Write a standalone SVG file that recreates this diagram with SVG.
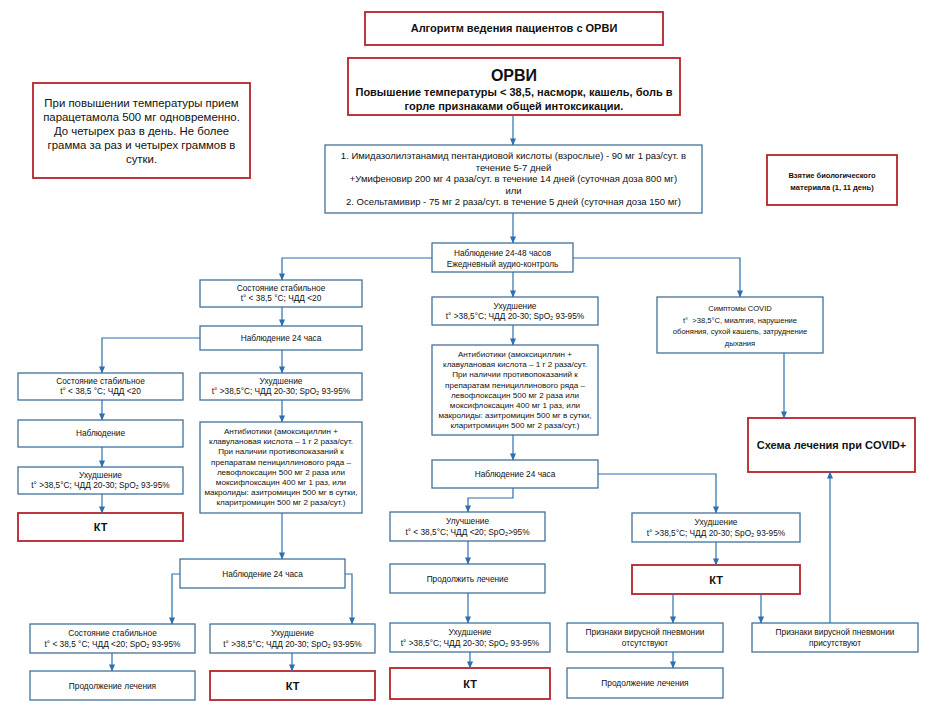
<svg xmlns="http://www.w3.org/2000/svg" width="936" height="712" viewBox="0 0 936 712">
<defs>
<marker id="ah" viewBox="0 0 8 8" refX="7.5" refY="4" markerWidth="7" markerHeight="7" markerUnits="userSpaceOnUse" orient="auto">
<path d="M0,0.5 L8,4 L0,7.5 Z" fill="#2e6fb0"/>
</marker>
<style>
text{font-family:"Liberation Sans",Arial,"DejaVu Sans",sans-serif;fill:#111;text-anchor:middle}
.b{fill:#fff;stroke:#41719c;stroke-width:1.3}
.r{fill:#fff;stroke:#b5232b;stroke-width:1.8}
.s{font-size:8.3px}
.a{font-size:8.1px}
.k{font-size:11px;font-weight:bold}
.c{fill:none;stroke:#2e6fb0;stroke-width:1.2;marker-end:url(#ah)}
</style>
</defs>
<rect width="936" height="712" fill="#fff"/>

<g id="title"><rect class="r" x="365" y="12" width="298" height="33"/><text class="k" x="514" y="32" font-size="11.5">Алгоритм ведения пациентов с ОРВИ</text></g>

<g id="orvi"><rect class="r" x="348" y="58" width="332" height="57" stroke-width="2.2"/>
<text x="514" y="81" font-size="16" font-weight="bold">ОРВИ</text>
<text class="k" x="514" y="96">Повышение температуры &lt; 38,5, насморк, кашель, боль в</text>
<text class="k" x="514" y="110">горле признаками общей интоксикации.</text></g>

<g id="paracetamol"><rect class="r" x="33" y="83" width="217" height="95"/>
<g font-size="11.4"><text x="141.5" y="107">При повышении температуры прием</text>
<text x="141.5" y="121">парацетамола 500 мг одновременно.</text>
<text x="141.5" y="135">До четырех раз в день. Не более</text>
<text x="141.5" y="149">грамма за раз и четырех граммов в</text>
<text x="141.5" y="163">сутки.</text></g></g>

<g id="drugs"><rect class="b" x="325" y="145" width="377" height="68"/>
<g font-size="9.5" xml:space="preserve"><text x="513.5" y="159">1. Имидазолилэтанамид пентандиовой кислоты (взрослые) - 90 мг 1 раз/сут. в</text>
<text x="513.5" y="170.5">течение 5-7 дней</text>
<text x="513.5" y="182">+Умифеновир  200 мг 4 раза/сут. в течение 14 дней (суточная доза 800 мг)</text>
<text x="513.5" y="193.5">или</text>
<text x="513.5" y="205">2. Осельтамивир  - 75 мг 2 раза/сут. в течение 5 дней  (суточная доза 150 мг)</text></g></g>

<g id="bio"><rect class="r" x="767" y="155" width="130" height="50" stroke-width="1.5"/>
<text x="832" y="178" font-size="7.5" font-weight="bold">Взятие биологического</text>
<text x="832" y="190" font-size="7.5" font-weight="bold">материала (1, 11 день)</text></g>

<g id="obs2448"><rect class="b" x="432" y="243" width="141" height="29"/>
<text class="s" x="502.5" y="256">Наблюдение 24-48 часов</text>
<text class="s" x="502.5" y="267">Ежедневный аудио-контроль</text></g>

<g id="stable1"><rect class="b" x="200" y="280" width="162" height="27"/>
<text class="s" x="281" y="291">Состояние стабильное</text>
<text class="s" x="281" y="301">t° &lt; 38,5 °C; ЧДД &lt;20</text></g>

<g id="obs24a"><rect class="b" x="200" y="326" width="162" height="24"/>
<text class="s" x="281" y="341">Наблюдение 24 часа</text></g>

<g id="lstable"><rect class="b" x="18" y="373" width="165" height="27"/>
<text class="s" x="100.5" y="384">Состояние стабильное</text>
<text class="s" x="100.5" y="394">t° &lt; 38,5 °C; ЧДД &lt;20</text></g>

<g id="lobs"><rect class="b" x="18" y="420" width="165" height="27"/>
<text class="s" x="100.5" y="436">Наблюдение</text></g>

<g id="lworse"><rect class="b" x="18" y="467" width="165" height="27"/>
<text class="s" x="100.5" y="478">Ухудшение</text>
<text class="s" x="100.5" y="488">t° &gt;38,5°C; ЧДД 20-30; SpO₂ 93-95%</text></g>

<g id="lkt"><rect class="r" x="18" y="513" width="165" height="28"/>
<text class="k" x="100.5" y="531">КТ</text></g>

<g id="mlworse"><rect class="b" x="200" y="373" width="162" height="27"/>
<text class="s" x="281" y="384">Ухудшение</text>
<text class="s" x="281" y="394">t° &gt;38,5°C; ЧДД 20-30; SpO₂ 93-95%</text></g>

<g id="mlanti"><rect class="b" x="200" y="422" width="162" height="91"/>
<g class="a"><text x="281" y="434">Антибиотики (амоксициллин +</text>
<text x="281" y="444.2">клавулановая кислота – 1 г 2 раза/сут.</text>
<text x="281" y="454.4">При наличии противопоказаний к</text>
<text x="281" y="464.6">препаратам пенициллинового ряда –</text>
<text x="281" y="474.8">левофлоксацин 500 мг 2 раза или</text>
<text x="281" y="485">моксифлоксацин 400 мг 1 раз, или</text>
<text x="281" y="495.2">макролиды: азитромицин 500 мг в сутки,</text>
<text x="281" y="505.4">кларитромицин 500 мг 2 раза/сут.)</text></g></g>

<g id="obs24b"><rect class="b" x="180" y="559" width="165" height="29"/>
<text class="s" x="262.5" y="576.5">Наблюдение 24 часа</text></g>

<g id="blstable"><rect class="b" x="30" y="624" width="165" height="29"/>
<text class="s" x="112.5" y="636">Состояние стабильное</text>
<text class="s" x="112.5" y="646.5">t° &lt; 38,5 °C; ЧДД &lt;20; SpO₂ 93-95%</text></g>

<g id="blworse"><rect class="b" x="210" y="624" width="165" height="29"/>
<text class="s" x="292.5" y="636">Ухудшение</text>
<text class="s" x="292.5" y="646.5">t° &gt;38,5°C; ЧДД 20-30; SpO₂ 93-95%</text></g>

<g id="blcont"><rect class="b" x="30" y="671" width="165" height="29"/>
<text class="s" x="112.5" y="688.5">Продолжение лечения</text></g>

<g id="blkt"><rect class="r" x="210" y="671" width="165" height="29"/>
<text class="k" x="292.5" y="689.5">КТ</text></g>

<g id="mworse"><rect class="b" x="432" y="297" width="166" height="28"/>
<text class="s" x="515" y="308.5">Ухудшение</text>
<text class="s" x="515" y="319">t° &gt;38,5°C; ЧДД 20-30; SpO₂ 93-95%</text></g>

<g id="manti"><rect class="b" x="432" y="345" width="166" height="90"/>
<g class="a"><text x="515" y="357">Антибиотики (амоксициллин +</text>
<text x="515" y="367.2">клавулановая кислота – 1 г 2 раза/сут.</text>
<text x="515" y="377.4">При наличии противопоказаний к</text>
<text x="515" y="387.6">препаратам пенициллинового ряда –</text>
<text x="515" y="397.8">левофлоксацин 500 мг 2 раза или</text>
<text x="515" y="408">моксифлоксацин 400 мг 1 раз, или</text>
<text x="515" y="418.2">макролиды: азитромицин 500 мг в сутки,</text>
<text x="515" y="428.4">кларитромицин 500 мг 2 раза/сут.)</text></g></g>

<g id="mobs"><rect class="b" x="432" y="460" width="166" height="28"/>
<text class="s" x="515" y="477">Наблюдение 24 часа</text></g>

<g id="better"><rect class="b" x="390" y="512" width="155" height="29"/>
<text class="s" x="467.5" y="524">Улучшение</text>
<text class="s" x="467.5" y="534.5">t° &lt; 38,5°C; ЧДД &lt;20; SpO₂&gt;95%</text></g>

<g id="cont"><rect class="b" x="390" y="564" width="155" height="29"/>
<text class="s" x="467.5" y="581.5">Продолжить лечение</text></g>

<g id="bmworse"><rect class="b" x="390" y="623" width="160" height="29"/>
<text class="s" x="470" y="635">Ухудшение</text>
<text class="s" x="470" y="645.5">t° &gt;38,5°C; ЧДД 20-30; SpO₂ 93-95%</text></g>

<g id="bmkt"><rect class="r" x="390" y="668" width="160" height="31"/>
<text class="k" x="470" y="687.5">КТ</text></g>

<g id="rworse"><rect class="b" x="632" y="513" width="168" height="29"/>
<text class="s" x="716" y="525">Ухудшение</text>
<text class="s" x="716" y="535.5">t° &gt;38,5°C; ЧДД 20-30; SpO₂ 93-95%</text></g>

<g id="rkt"><rect class="r" x="632" y="565" width="168" height="29"/>
<text class="k" x="716" y="583.5">КТ</text></g>

<g id="noPneu"><rect class="b" x="567" y="623" width="156" height="29"/>
<text class="s" x="645" y="635">Признаки вирусной пневмонии</text>
<text class="s" x="645" y="645.5">отсутствуют</text></g>

<g id="rcont"><rect class="b" x="567" y="668" width="156" height="30"/>
<text class="s" x="645" y="686">Продолжение лечения</text></g>

<g id="yesPneu"><rect class="b" x="752" y="623" width="166" height="29"/>
<text class="s" x="835" y="635">Признаки вирусной пневмонии</text>
<text class="s" x="835" y="645.5">присутствуют</text></g>

<g id="covid"><rect class="b" x="657" y="297" width="166" height="56"/>
<g font-size="7.6"><text x="740" y="311">Симптомы COVID</text>
<text x="740" y="322.5" xml:space="preserve">t°  &gt;38,5°C, миалгия, нарушение</text>
<text x="740" y="334">обоняния, сухой кашель, затруднение</text>
<text x="740" y="345.5">дыхания</text></g></g>

<g id="covidScheme"><rect class="r" x="748" y="418" width="167" height="54" stroke-width="1.5"/>
<text class="k" x="831.5" y="449">Схема лечения при COVID+</text></g>

<g id="connectors">
<path class="c" d="M513,115 V145"/>
<path class="c" d="M513,213 V243"/>
<path class="c" d="M432,258 H282 V280"/>
<path class="c" d="M573,258 H740 V297"/>
<path class="c" d="M513,272 V297"/>
<path class="c" d="M282,307 V326"/>
<path class="c" d="M200,338 H102 V373"/>
<path class="c" d="M282,350 V373"/>
<path class="c" d="M102,400 V420"/>
<path class="c" d="M102,447 V467"/>
<path class="c" d="M102,494 V513"/>
<path class="c" d="M282,400 V422"/>
<path class="c" d="M282,513 V559"/>
<path class="c" d="M180,574 H172 V624"/>
<path class="c" d="M345,574 H352 V624"/>
<path class="c" d="M112,653 V671"/>
<path class="c" d="M292,653 V671"/>
<path class="c" d="M513,325 V345"/>
<path class="c" d="M513,435 V460"/>
<path class="c" d="M513,488 V498 H468 V512"/>
<path class="c" d="M598,474 H716 V513"/>
<path class="c" d="M468,541 V564"/>
<path class="c" d="M468,593 V623"/>
<path class="c" d="M470,652 V668"/>
<path class="c" d="M716,542 V565"/>
<path class="c" d="M673,594 V623"/>
<path class="c" d="M761,594 V623"/>
<path class="c" d="M673,652 V668"/>
<path class="c" d="M830,623 V472"/>
<path class="c" d="M784,353 V418"/>
</g>
</svg>
